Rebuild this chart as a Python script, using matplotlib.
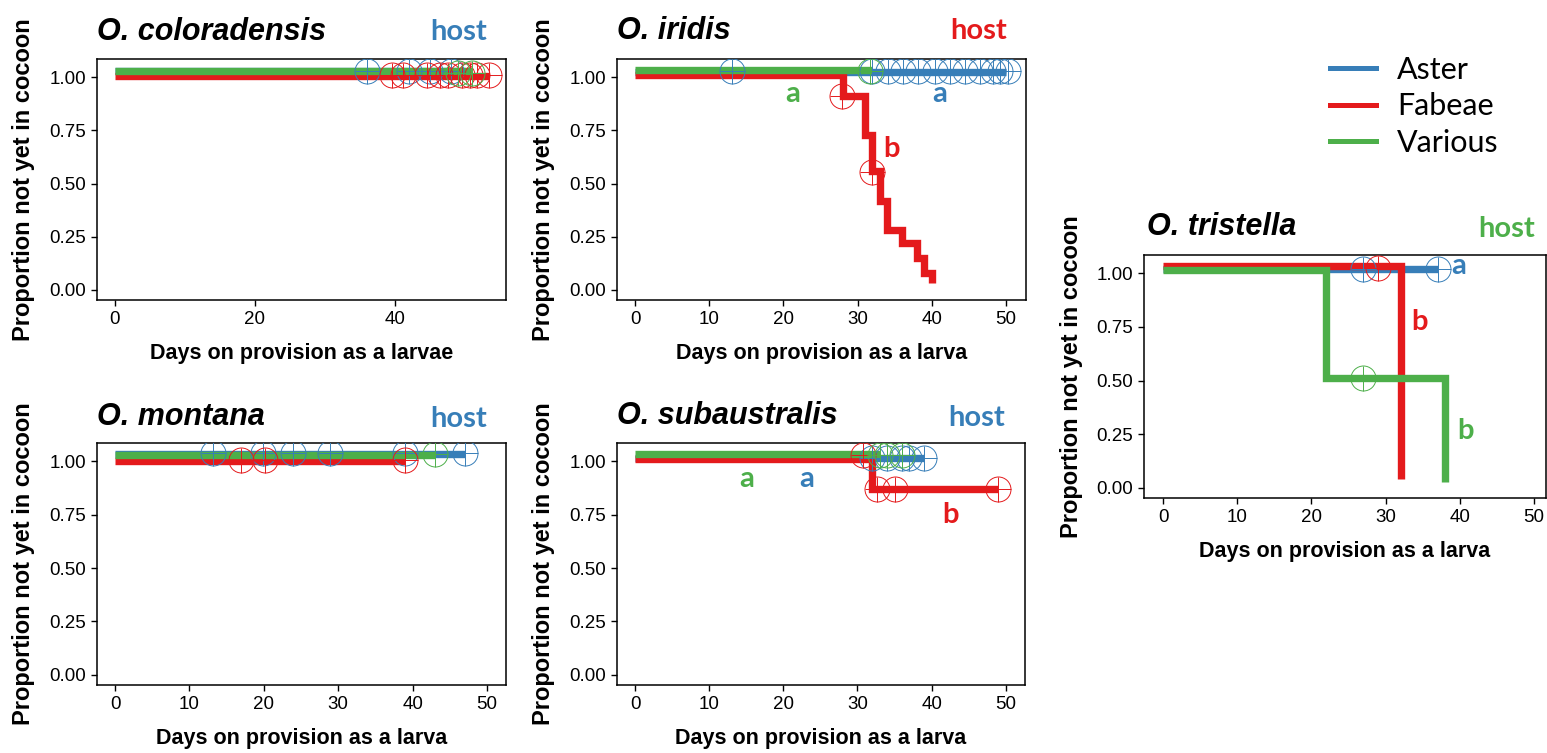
import matplotlib
matplotlib.use("Agg")
import matplotlib.pyplot as plt
from matplotlib.lines import Line2D

W, H = 1547, 753

groups = ["Aster", "Fabeae", "Various"]
colors = {"Aster": "#377EB8", "Fabeae": "#E41A1C", "Various": "#4DAF4A"}

# ---- O. coloradensis ----
col_aster_t = [0, 50]
col_aster_s = [1.03, 1.03]
col_aster_ct = [36, 42, 45, 48]
col_aster_cs = [1.03, 1.03, 1.03, 1.03]
col_fab_t = [0, 53.5]
col_fab_s = [1.005, 1.005]
col_fab_ct = [39.6, 41.1, 44.6, 46.4, 47.6, 49.6, 50.7, 51.7, 53.5]
col_fab_cs = [1.01] * 9
col_var_t = [0, 51]
col_var_s = [1.03, 1.03]
col_var_ct = [49, 51]
col_var_cs = [1.02, 1.02]

# ---- O. iridis ----
iri_aster_t = [0, 50]
iri_aster_s = [1.025, 1.025]
iri_aster_ct = [13.1, 31.9, 34.1, 36.1, 38.1, 40.4, 42.5, 44.5, 46.5, 48.3, 49.2, 50.3]
iri_aster_cs = [1.03] * 12
iri_fab_t = [0, 28, 31, 32, 33, 34, 36, 38, 39, 40]
iri_fab_s = [1.01, 0.91, 0.73, 0.56, 0.42, 0.28, 0.22, 0.15, 0.08, 0.03]
iri_fab_ct = [27.9, 31.9]
iri_fab_cs = [0.91, 0.555]
iri_var_t = [0, 32]
iri_var_s = [1.035, 1.035]
iri_var_ct = [31.7]
iri_var_cs = [1.03]

# ---- O. montana ----
mon_aster_t = [0, 47]
mon_aster_s = [1.035, 1.035]
mon_aster_ct = [13.2, 19.9, 23.9, 28.9, 39, 47]
mon_aster_cs = [1.04] * 6
mon_fab_t = [0, 39]
mon_fab_s = [1.003, 1.003]
mon_fab_ct = [17, 20.2, 39]
mon_fab_cs = [1.008, 1.008, 1.008]
mon_var_t = [0, 43]
mon_var_s = [1.03, 1.03]
mon_var_ct = [43]
mon_var_cs = [1.035]

# ---- O. subaustralis ----
sub_aster_t = [0, 39]
sub_aster_s = [1.015, 1.015]
sub_aster_ct = [32, 34, 36, 37, 39]
sub_aster_cs = [1.015] * 5
sub_fab_t = [0, 32, 49]
sub_fab_s = [1.01, 0.87, 0.87]
sub_fab_ct = [30.8, 32.6, 35, 49]
sub_fab_cs = [1.03, 0.87, 0.87, 0.87]
sub_var_t = [0, 33]
sub_var_s = [1.035, 1.035]
sub_var_ct = [33, 34, 36]
sub_var_cs = [1.03, 1.03, 1.03]

# ---- O. tristella ----
tri_aster_t = [0, 37]
tri_aster_s = [1.02, 1.02]
tri_aster_ct = [27, 37]
tri_aster_cs = [1.02, 1.02]
tri_fab_t = [0, 32]
tri_fab_s = [1.035, 0.04]
tri_fab_ct = [29]
tri_fab_cs = [1.025]
tri_var_t = [0, 22, 38]
tri_var_s = [1.015, 0.51, 0.025]
tri_var_ct = [27]
tri_var_cs = [0.51]

yticks = [0, 0.25, 0.5, 0.75, 1.0]
ytick_labels = ["0.00", "0.25", "0.50", "0.75", "1.00"]

fig = plt.figure(figsize=(W / 100, H / 100), dpi=100)


def box(l, t, r, b):
    return [l / W, 1 - b / H, (r - l) / W, (b - t) / H]


def text_at(x, y, s, **kw):
    fig.text(x / W, 1 - y / H, s, **kw)


def panel(rect, curves, xlim, xticks, xlabel):
    ax = fig.add_axes(rect)
    for g in groups:
        t, s, ct, cs = curves[g]
        ax.step(t, s, where="post", color=colors[g], lw=5.3,
                solid_capstyle="butt", solid_joinstyle="miter", zorder=2)
    for g in groups:
        t, s, ct, cs = curves[g]
        ax.plot(ct, cs, ls="none", marker="o", ms=18, mfc="none",
                mec=colors[g], mew=0.7, zorder=3)
        ax.plot(ct, cs, ls="none", marker="+", ms=18,
                mec=colors[g], mew=0.7, zorder=3)
    ax.set_xlim(xlim)
    ax.set_ylim(-0.048, 1.086)
    ax.set_xticks(xticks)
    ax.set_yticks(yticks)
    ax.set_yticklabels(ytick_labels)
    ax.tick_params(length=4, width=1, pad=4, labelsize=13.5, direction="out")
    for lab in ax.get_xticklabels() + ax.get_yticklabels():
        lab.set_family("Liberation Sans")
    for sp in ax.spines.values():
        sp.set_linewidth(1.1)
    ax.set_ylabel("Proportion not yet in cocoon", fontsize=17,
                  fontweight="bold", family="Liberation Sans")
    ax.set_xlabel(xlabel, fontsize=15.5, fontweight="bold",
                  family="Liberation Sans")
    ax.yaxis.set_label_coords(-0.152, 0.5)
    ax.xaxis.set_label_coords(0.5, -0.178)
    return ax


larva = "Days on provision as a larva"

ax1 = panel(box(97, 59, 506, 300), {
    "Aster": (col_aster_t, col_aster_s, col_aster_ct, col_aster_cs),
    "Fabeae": (col_fab_t, col_fab_s, col_fab_ct, col_fab_cs),
    "Various": (col_var_t, col_var_s, col_var_ct, col_var_cs),
}, (-2.57, 55.86), [0, 20, 40], "Days on provision as a larvae")

ax2 = panel(box(617, 59, 1026, 300), {
    "Aster": (iri_aster_t, iri_aster_s, iri_aster_ct, iri_aster_cs),
    "Fabeae": (iri_fab_t, iri_fab_s, iri_fab_ct, iri_fab_cs),
    "Various": (iri_var_t, iri_var_s, iri_var_ct, iri_var_cs),
}, (-2.43, 52.7), [0, 10, 20, 30, 40, 50], larva)

ax3 = panel(box(97, 443, 506, 685), {
    "Aster": (mon_aster_t, mon_aster_s, mon_aster_ct, mon_aster_cs),
    "Fabeae": (mon_fab_t, mon_fab_s, mon_fab_ct, mon_fab_cs),
    "Various": (mon_var_t, mon_var_s, mon_var_ct, mon_var_cs),
}, (-2.42, 52.55), [0, 10, 20, 30, 40, 50], larva)

ax4 = panel(box(617, 443, 1025, 685), {
    "Aster": (sub_aster_t, sub_aster_s, sub_aster_ct, sub_aster_cs),
    "Fabeae": (sub_fab_t, sub_fab_s, sub_fab_ct, sub_fab_cs),
    "Various": (sub_var_t, sub_var_s, sub_var_ct, sub_var_cs),
}, (-2.43, 52.6), [0, 10, 20, 30, 40, 50], larva)

ax5 = panel(box(1144, 255, 1546, 498), {
    "Aster": (tri_aster_t, tri_aster_s, tri_aster_ct, tri_aster_cs),
    "Fabeae": (tri_fab_t, tri_fab_s, tri_fab_ct, tri_fab_cs),
    "Various": (tri_var_t, tri_var_s, tri_var_ct, tri_var_cs),
}, (-2.56, 51.6), [0, 10, 20, 30, 40, 50], larva)

# species titles and host labels
title_kw = dict(fontsize=22, fontweight="bold", style="italic",
                family="Liberation Sans", va="baseline", ha="left")
host_kw = dict(fontsize=21, fontweight="bold", family="Lato",
               va="baseline", ha="right")
text_at(97, 40, "O. coloradensis", **title_kw)
text_at(617, 39, "O. iridis", **title_kw)
text_at(97, 425, "O. montana", **title_kw)
text_at(617, 424, "O. subaustralis", **title_kw)
text_at(1147, 235, "O. tristella", **title_kw)
text_at(487, 40, "host", color=colors["Aster"], **host_kw)
text_at(1007, 39, "host", color=colors["Fabeae"], **host_kw)
text_at(487, 427, "host", color=colors["Aster"], **host_kw)
text_at(1005, 426, "host", color=colors["Aster"], **host_kw)
text_at(1535, 237, "host", color=colors["Various"], **host_kw)

# significance letters
let_kw = dict(fontsize=21, fontweight="bold", family="Lato",
              ha="center", va="baseline")
ax2.text(21.3, 0.883, "a", color=colors["Various"], **let_kw)
ax2.text(41, 0.883, "a", color=colors["Aster"], **let_kw)
ax2.text(34.6, 0.624, "b", color=colors["Fabeae"], **let_kw)
ax4.text(15.1, 0.878, "a", color=colors["Various"], **let_kw)
ax4.text(23.2, 0.878, "a", color=colors["Aster"], **let_kw)
ax4.text(42.5, 0.713, "b", color=colors["Fabeae"], **let_kw)
ax5.text(39.9, 0.995, "a", color=colors["Aster"], **let_kw)
ax5.text(34.6, 0.738, "b", color=colors["Fabeae"], **let_kw)
ax5.text(40.7, 0.229, "b", color=colors["Various"], **let_kw)

handles = [Line2D([], [], color=colors[g], lw=3.6) for g in groups]
fig.legend(handles, groups, loc="upper left",
           bbox_to_anchor=(1330 / W, 1 - 56 / H), frameon=False,
           prop={"family": "Lato", "size": 22}, handlelength=1.5,
           handletextpad=0.7, labelspacing=0.27, borderpad=0,
           borderaxespad=0)

fig.savefig("out.png", dpi=100)
